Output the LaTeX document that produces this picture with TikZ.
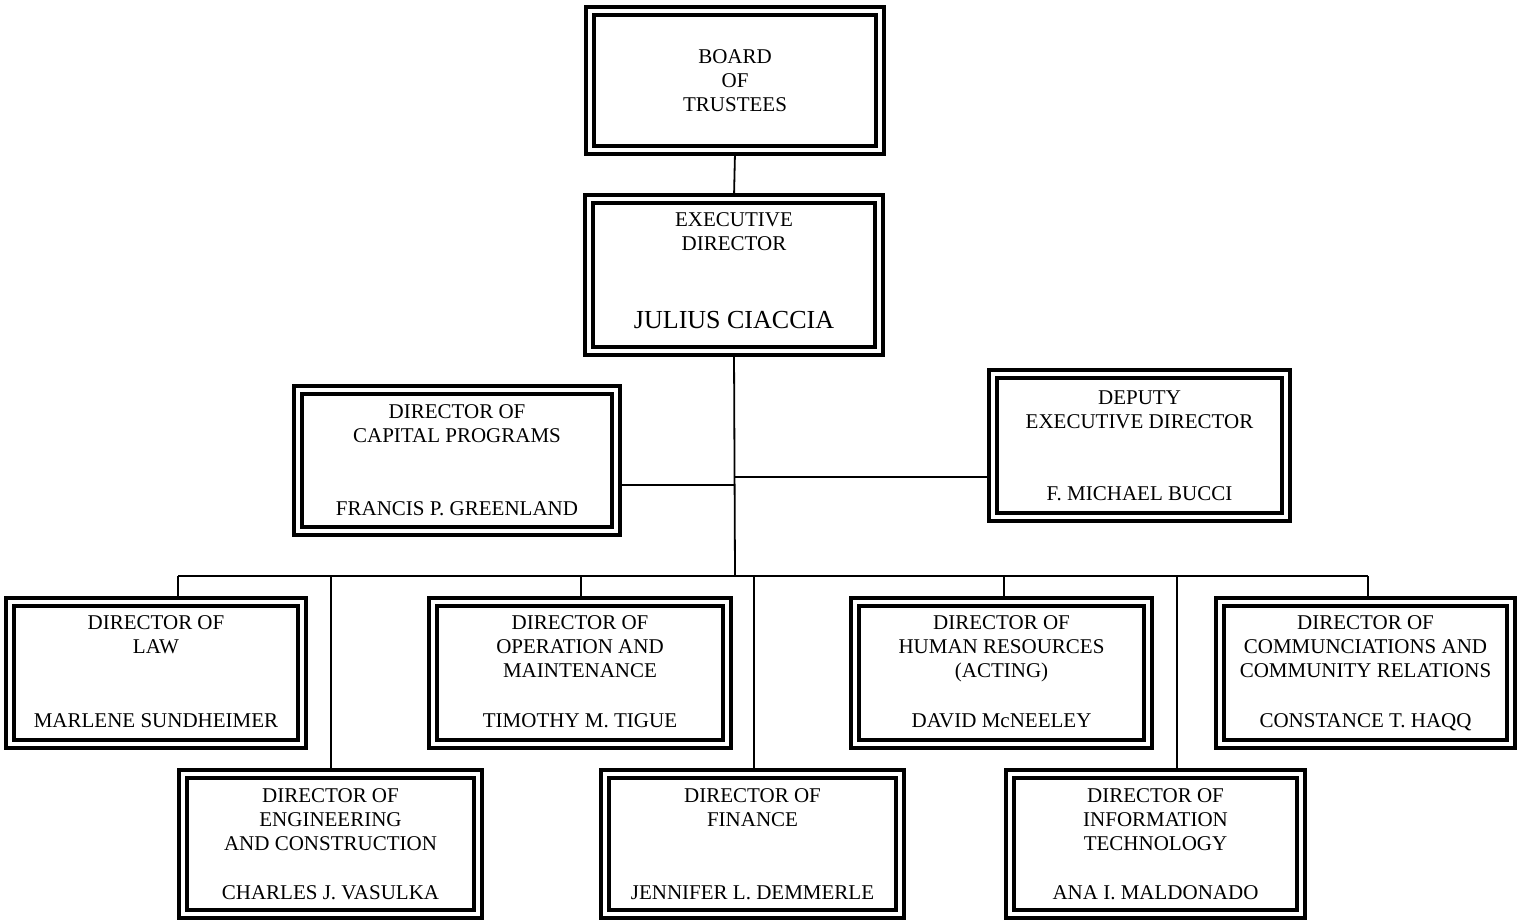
\documentclass[tikz,border=0pt]{standalone}
\usepackage{fontspec}
\setmainfont{Liberation Serif}
\usetikzlibrary{backgrounds}
\tikzset{
  obx/.style={draw=black, line width=2.2pt, double=white, double distance=1.6pt,
    fill=white, rectangle, inner sep=0pt, align=center,
    font=\fontsize{10.5}{12}\selectfont},
  ttl/.style={inner sep=0pt, align=center, font=\fontsize{10.5}{12}\selectfont},
  conn/.style={draw=black, line width=0.9pt}
}
\newcommand\obox[9]{%
  \node[obx, minimum width={(#4-#2-12)*0.5pt}, minimum height={(#5-#3-12)*0.5pt}]
    (#1) at ({(#2+#4)/2},{(#3+#5)/2}) {};
  \node[ttl, anchor=north] (#1t) at ({(#2+#4)/2},{#6-7}) {#7};
  \node[ttl, anchor=base] (#1n) at ({(#2+#4)/2},{#8+7}) {#9};
}
\begin{document}
\begin{tikzpicture}[x=0.5pt, y=-0.5pt]
\useasboundingbox (0,0) rectangle (1518,922);

\node[obx, minimum width={(302-12)*0.5pt}, minimum height={(151-12)*0.5pt}]
  (board) at (735,80.5) {BOARD\\OF\\TRUSTEES};

\obox{exec}{583}{193}{885}{357}{219}{EXECUTIVE\\DIRECTOR}{321.6}{\fontsize{13}{15}\selectfont JULIUS CIACCIA}
\obox{cap}{292}{384}{622}{537}{411}{DIRECTOR OF\\CAPITAL PROGRAMS}{508}{FRANCIS P. GREENLAND}
\obox{dep}{987}{368}{1292}{523}{397}{DEPUTY\\EXECUTIVE DIRECTOR}{493}{F. MICHAEL BUCCI}
\obox{law}{4}{596}{308}{750}{622}{DIRECTOR OF\\LAW}{720}{MARLENE SUNDHEIMER}
\obox{op}{427}{596}{733}{750}{622}{DIRECTOR OF\\OPERATION AND\\MAINTENANCE}{720}{TIMOTHY M. TIGUE}
\obox{hr}{849}{596}{1154}{750}{622}{DIRECTOR OF\\HUMAN RESOURCES\\(ACTING)}{720}{DAVID McNEELEY}
\obox{comm}{1214}{596}{1517}{750}{622}{DIRECTOR OF\\COMMUNCIATIONS AND\\COMMUNITY RELATIONS}{720}{CONSTANCE T. HAQQ}
\obox{eng}{177}{768}{484}{920}{795}{DIRECTOR OF\\ENGINEERING\\AND CONSTRUCTION}{892}{CHARLES J. VASULKA}
\obox{fin}{599}{768}{906}{920}{795}{DIRECTOR OF\\FINANCE}{892}{JENNIFER L. DEMMERLE}
\obox{it}{1004}{768}{1307}{920}{795}{DIRECTOR OF\\INFORMATION\\TECHNOLOGY}{892}{ANA I. MALDONADO}

\coordinate (bus) at (735,576);
\coordinate (jC) at (735,485);
\coordinate (jD) at (735,477);
\coordinate (dLaw) at (178,576);
\coordinate (dEng) at (331,576);
\coordinate (dOp) at (581,576);
\coordinate (dFin) at (754,576);
\coordinate (dHr) at (1004,576);
\coordinate (dIt) at (1177,576);
\coordinate (dComm) at (1368,576);

\begin{pgfonlayer}{background}
\draw[conn] (board.south) -- (exec.north);
\draw[conn] (exec.south) -- (bus);
\draw[conn] (jC) -- (jC -| cap.east);
\draw[conn] (jD) -- (jD -| dep.west);
\draw[conn] (dLaw) -- (dComm);
\draw[conn] (dLaw) -- (dLaw |- law.north);
\draw[conn] (dEng) -- (dEng |- eng.north);
\draw[conn] (dOp) -- (dOp |- op.north);
\draw[conn] (dFin) -- (dFin |- fin.north);
\draw[conn] (dHr) -- (dHr |- hr.north);
\draw[conn] (dIt) -- (dIt |- it.north);
\draw[conn] (dComm) -- (dComm |- comm.north);
\end{pgfonlayer}
\end{tikzpicture}
\end{document}
